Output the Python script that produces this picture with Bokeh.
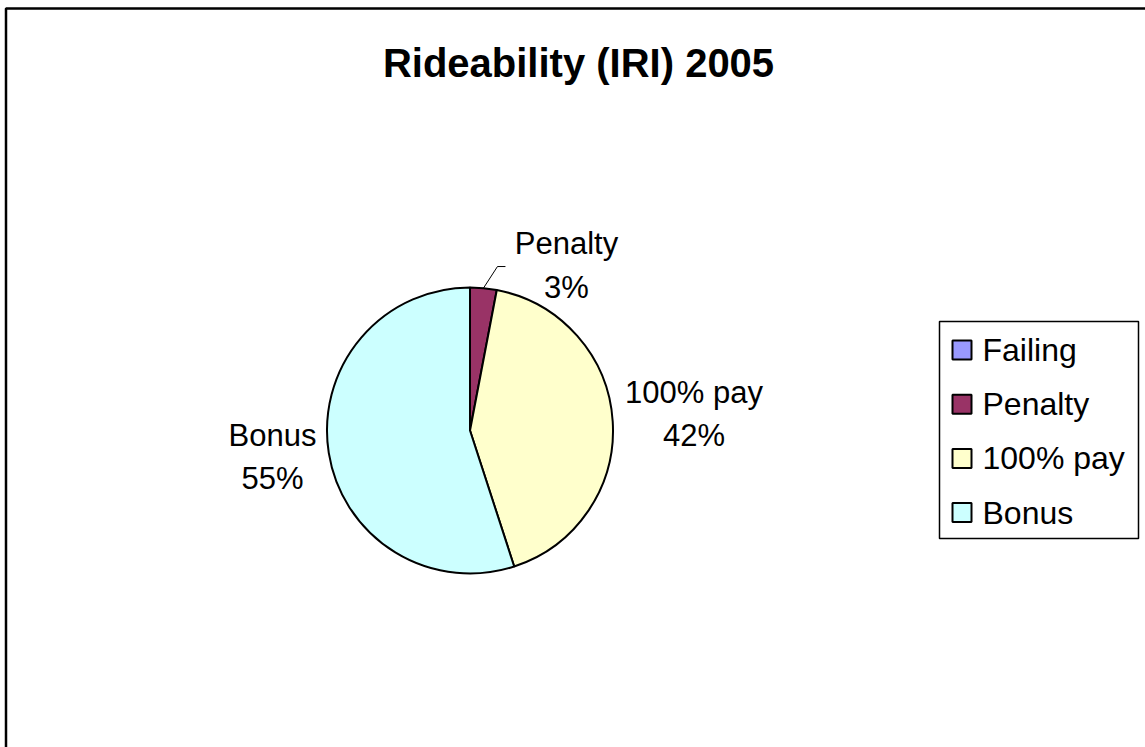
import numpy as np
from bokeh.plotting import figure
from bokeh.models import Range1d
from bokeh.core.properties import value
from bokeh.embed import file_html
from bokeh.resources import INLINE

# ---- data ----
categories = ["Failing", "Penalty", "100% pay", "Bonus"]
percents = [0, 3, 42, 55]
colors = ["#9999FF", "#993366", "#FFFFCC", "#CCFFFF"]
title_text = "Rideability (IRI) 2005"

# ---- layout (pixels, top-left origin) ----
W, H = 1145, 747
FONT = "Liberation Sans"
cx_px, cy_px, R = 469.5, 430.0, 143.0
label_pad = 10.0
label_nudge = {"Penalty": (82.1, 12.7), "100% pay": (71.3, 6.9), "Bonus": (-46.4, -2.6)}
line_gap = 43.5
leader_elbow = (14.0, 21.6)
leader_tail = 8.0
leg_left, leg_right, leg_top_px, leg_bot_px = 939, 1138, 321, 538
leg_first_px, leg_step = 349.5, 54.2
leg_marker_x, leg_marker_size, leg_text_x = 961.5, 19, 982


def Y(py):
    return H - py


p = figure(width=W, height=H, x_range=Range1d(0, W), y_range=Range1d(0, H),
           x_axis_type=None, y_axis_type=None, toolbar_location=None,
           output_backend="svg", min_border=0)
p.grid.visible = False
p.outline_line_color = None
p.background_fill_color = "white"
p.border_fill_color = "white"

# outer chart border (extends past the right/bottom edges)
p.quad(left=[5.5], right=[W + 20], top=[Y(8.0)], bottom=[-20],
       fill_color=None, line_color="black", line_width=2.5)

# title
p.text(x=[578], y=[Y(62)], text=[title_text], text_align="center",
       text_baseline="middle", text_font=value(FONT), text_font_size="40px",
       text_font_style="bold", text_color="black")

# pie
cx, cy = cx_px, Y(cy_px)
cum = np.cumsum([0] + percents)
starts = np.pi / 2 - 2 * np.pi * cum[:-1] / 100.0
ends = np.pi / 2 - 2 * np.pi * cum[1:] / 100.0
for cat, pct, s, e, col in zip(categories, percents, starts, ends, colors):
    if pct <= 0:
        continue
    p.wedge(x=[cx], y=[cy], radius=R, start_angle=[s], end_angle=[e],
            direction="clock", fill_color=col, line_color="black", line_width=2)

# data labels
for cat, pct, s, e in zip(categories, percents, starts, ends):
    if pct <= 0:
        continue
    mid = (s + e) / 2
    ax = cx + (R + label_pad) * np.cos(mid)
    ay = cy + (R + label_pad) * np.sin(mid)
    nx, ny = label_nudge.get(cat, (0, 0))
    lx, ly = ax + nx, ay + ny
    p.text(x=[lx], y=[ly + line_gap / 2], text=[cat], text_align="center",
           text_baseline="middle", text_font=value(FONT), text_font_size="31px",
           text_color="black")
    p.text(x=[lx], y=[ly - line_gap / 2], text=[f"{pct}%"], text_align="center",
           text_baseline="middle", text_font=value(FONT), text_font_size="31px",
           text_color="black")
    if pct < 5:
        ex, ey = cx + R * np.cos(mid), cy + R * np.sin(mid)
        bx, by = ex + leader_elbow[0], ey + leader_elbow[1]
        p.line(x=[ex, bx, bx + leader_tail], y=[ey, by, by],
               line_color="black", line_width=1)

# legend
p.quad(left=[leg_left], right=[leg_right], top=[Y(leg_top_px)], bottom=[Y(leg_bot_px)],
       fill_color="white", line_color="black", line_width=1.5)
leg_y = [Y(leg_first_px + i * leg_step) for i in range(len(categories))]
p.rect(x=[leg_marker_x] * len(categories), y=leg_y, width=leg_marker_size,
       height=leg_marker_size, fill_color=colors, line_color="black", line_width=2)
p.text(x=[leg_text_x] * len(categories), y=leg_y, text=categories, text_align="left",
       text_baseline="middle", text_font=value(FONT), text_font_size="32px",
       text_color="black")

open("out.html", "w").write(file_html(p, INLINE))
